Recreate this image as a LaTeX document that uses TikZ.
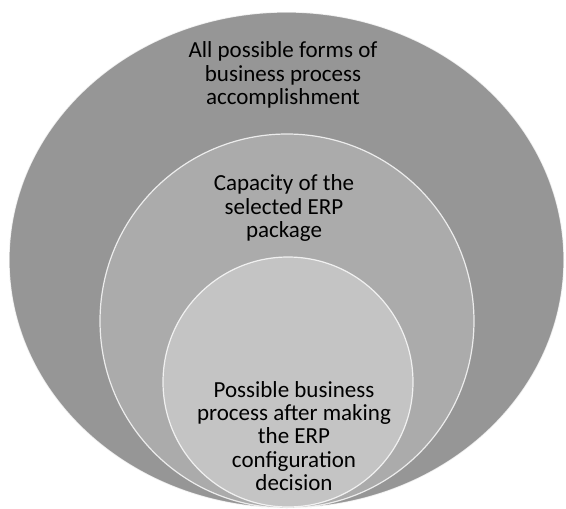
\documentclass[tikz,border=0pt]{standalone}
\usepackage{fontspec}
\setmainfont{Carlito}
\definecolor{outerg}{HTML}{969696}
\definecolor{midg}{HTML}{ABABAB}
\definecolor{innerg}{HTML}{C4C4C4}
\begin{document}
\begin{tikzpicture}[x=1pt,y=-1pt,
  ring/.style={draw=white, draw opacity=0.8, line width=1.2pt},
  lbl/.style={align=center, font=\fontsize{23}{23.3}\selectfont, text=black, inner sep=0pt}]
\useasboundingbox (0,0) rectangle (566,509);
\fill[white] (0,0) rectangle (566,509);
\path[ring, fill=outerg] (286.5,260) ellipse [x radius=277.5, y radius=248];
\path[ring, fill=midg] (287,321) circle [radius=187];
\path[ring, fill=innerg] (288,382) circle [radius=125];
\node[lbl] (outer) at (283,75) {All possible forms of\\business process\\accomplishment};
\node[lbl] (mid) at (284,208) {Capacity of the\\selected ERP\\package};
\node[lbl] (inner) at (294,436) {Possible business\\process after making\\the ERP\\configuration\\decision};
\end{tikzpicture}
\end{document}
